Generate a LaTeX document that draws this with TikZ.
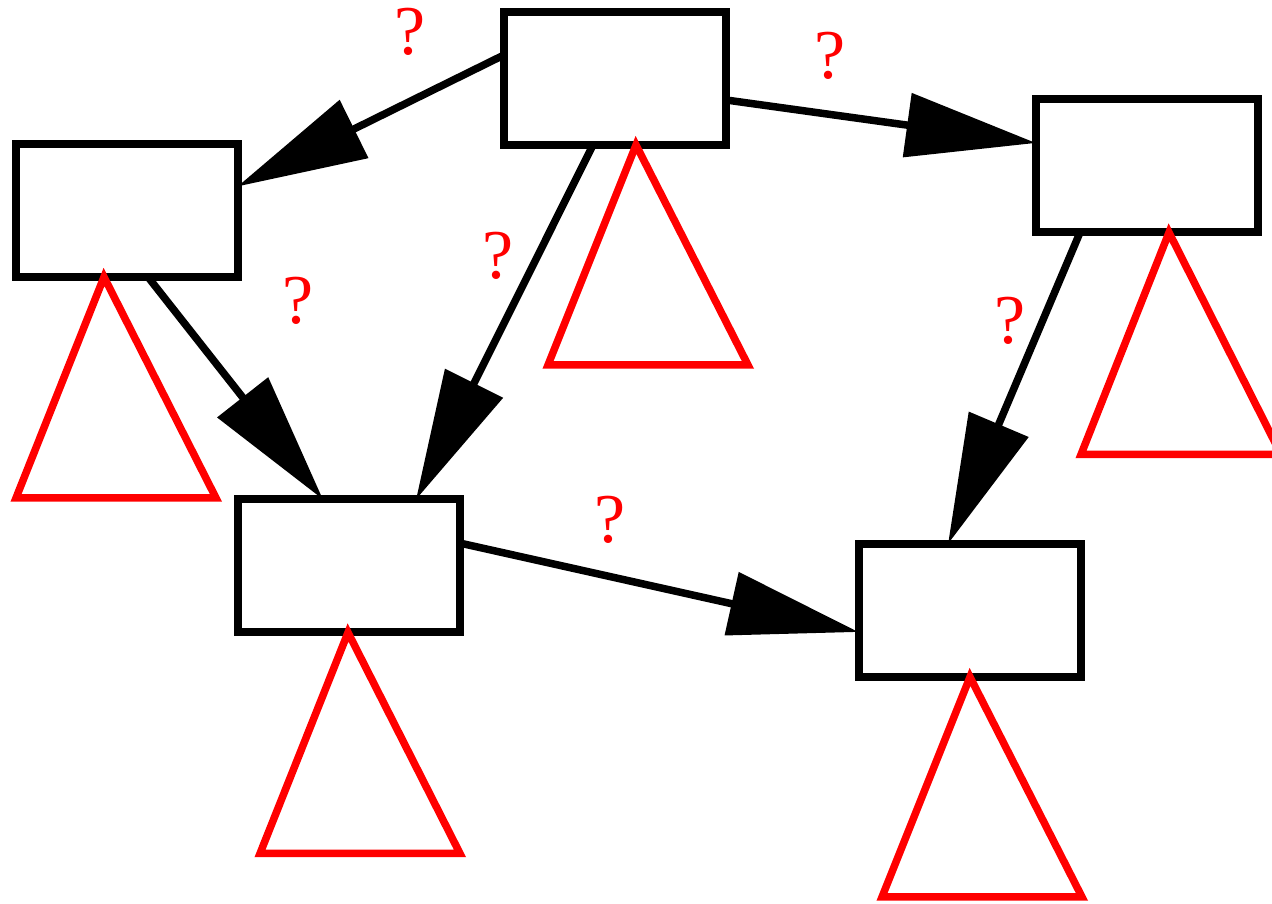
\documentclass[tikz,border=0pt]{standalone}
\usepackage{fontspec}
\setmainfont{Liberation Serif}
\usetikzlibrary{arrows.meta}
\begin{document}
\begin{tikzpicture}[x=1pt,y=1pt,
  box/.style={draw=black,line width=8pt,minimum width=222pt,minimum height=133pt,inner sep=0pt,outer sep=0pt,fill=none},
  tri/.style={draw=red,line width=7.5pt,miter limit=20},
  conn/.style={line width=7.5pt,-{Triangle[length=130pt,width=63pt]}},
  qm/.style={text=red,inner sep=0pt,font=\fontsize{70}{70}\selectfont}]
\useasboundingbox (0,0) rectangle (1272,904);
\node[box] (A) at (615,825.5) {};
\node[box] (B) at (126.5,693.5) {};
\node[box] (C) at (1147,738) {};
\node[box] (D) at (348.5,338) {};
\node[box] (E) at (969.5,293.5) {};
% triangles
\draw[tri] ([xshift=21pt]A.south) -- ++(-88,-220) -- ++(200,0) -- cycle;
\draw[tri] ([xshift=-22.5pt]B.south) -- ++(-88,-221) -- ++(200,0) -- cycle;
\draw[tri] ([xshift=22pt]C.south) -- ++(-88,-222) -- ++(200,0) -- cycle;
\draw[tri] ([xshift=-0.5pt]D.south) -- ++(-88,-221) -- ++(200,0) -- cycle;
\draw[tri] ([xshift=0.5pt]E.south) -- ++(-88,-220) -- ++(200,0) -- cycle;
% connectors
\draw[conn] ([yshift=23.5pt]A.west) -- ([yshift=24pt]B.east);
\draw[conn] ([yshift=-21.5pt]A.east) -- ([yshift=23pt]C.west);
\draw[conn] ([xshift=-22pt]A.south) -- ([xshift=67.5pt]D.north);
\draw[conn] ([xshift=21.5pt]B.south) -- ([xshift=-25.5pt]D.north);
\draw[conn] ([xshift=-67pt]C.south) -- ([xshift=-21.5pt]E.north);
\draw[conn] ([yshift=23pt]D.east) -- ([yshift=-21.5pt]E.west);
% labels
\node[qm] (q1) at (410,872) {?};
\node[qm] (q2) at (830,848) {?};
\node[qm] (q3) at (498,648) {?};
\node[qm] (q4) at (298,603) {?};
\node[qm] (q5) at (1010,583.5) {?};
\node[qm] (q6) at (610,384) {?};
\end{tikzpicture}
\end{document}
